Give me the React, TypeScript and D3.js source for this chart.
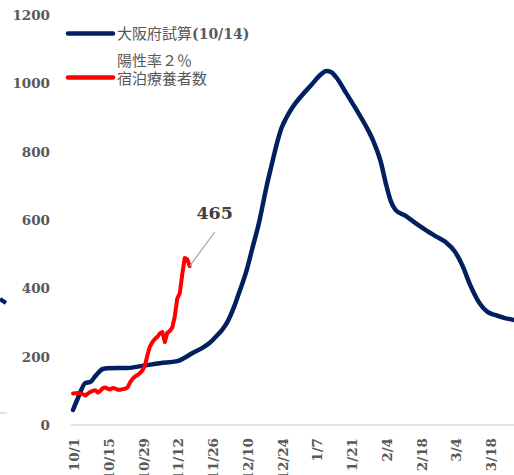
import React from "react";
import * as d3 from "d3";

// ---- data ----
const tickDays = [0, 14, 28, 42, 56, 70, 84, 98, 112, 126, 140, 154, 168];
const tickLabels = ["10/1", "10/15", "10/29", "11/12", "11/26", "12/10", "12/24", "1/7", "1/21", "2/4", "2/18", "3/4", "3/18"];
const yTicks = [0, 200, 400, 600, 800, 1000, 1200];

// 大阪府試算(10/14) — day offset from 10/1 and value
const osakaDays = [0, 2, 5, 7, 9, 12, 14, 22, 28, 35, 42, 45, 48, 52, 55, 58, 60, 62, 65, 67, 70, 72, 75, 78, 80, 82, 84, 86, 88, 92, 96, 100, 102, 104, 106, 110, 114, 118, 121, 124, 126, 128, 130, 134, 138, 142, 146, 150, 154, 157, 160, 164, 167, 170, 174, 178];
const osakaValues = [44, 79, 123, 126, 143, 164, 166, 167, 173, 181, 187, 197, 210, 225, 240, 262, 278, 299, 348, 389, 454, 510, 594, 699, 760, 820, 869, 900, 925, 963, 995, 1027, 1036, 1033, 1018, 972, 925, 875, 831, 770, 708, 656, 629, 612, 591, 571, 553, 536, 506, 465, 410, 354, 331, 322, 313, 307];

// 陽性率２％ 宿泊療養者数 — daily from 10/1
const hotelValues = [92, 93, 94, 93, 90, 86, 92, 97, 100, 102, 95, 100, 108, 110, 106, 104, 108, 107, 103, 103, 105, 106, 110, 125, 135, 142, 146, 152, 160, 175, 205, 230, 243, 252, 258, 268, 272, 243, 270, 275, 285, 318, 370, 385, 440, 489, 485, 465];
const lastLabel = "465";

const W = 514;
const H = 475;
const serif = "'DejaVu Serif', serif";
const cjk = "'Noto Sans CJK JP', sans-serif";

export default function App() {
  const x = d3.scaleLinear().domain([0, 168]).range([73, 490]);
  const y = d3.scaleLinear().domain([0, 1200]).range([425, 15]);

  const line = d3
    .line<[number, number]>()
    .x((d) => x(d[0]))
    .y((d) => y(d[1]))
    .curve(d3.curveMonotoneX);

  const osakaPts: [number, number][] = osakaDays.map((d, i) => [d, osakaValues[i]]);
  const hotelPts: [number, number][] = hotelValues.map((v, i) => [i, v]);
  const hotelLine = d3
    .line<[number, number]>()
    .x((d) => x(d[0]))
    .y((d) => y(d[1]));

  const last = hotelPts[hotelPts.length - 1];
  const lx = x(last[0]);
  const ly = y(last[1]);

  return (
    <svg width={W} height={H} style={{ position: "absolute", left: 0, top: 0, background: "#fff" }}>
      <rect width={W} height={H} fill="#fff" />
      {/* fragments of neighbouring chart */}
      <line x1={0} y1={413} x2={7} y2={413} stroke="#d9d9d9" strokeWidth={1.5} />
      <line x1={0} y1={299} x2={6} y2={303} stroke="#002060" strokeWidth={4} />

      {/* baseline */}
      <line x1={71} x2={514} y1={y(0)} y2={y(0)} stroke="#d9d9d9" strokeWidth={1.5} />

      {/* y tick labels */}
      {yTicks.map((t) => (
        <text key={t} x={50} y={y(t) + 5} textAnchor="end" fontFamily={serif} fontWeight="bold" fontSize={13.5} fill="#595959">
          {t}
        </text>
      ))}

      {/* x tick labels */}
      {tickDays.map((d, i) => (
        <text
          key={d}
          transform={`translate(${x(d) + 6},438) rotate(-90)`}
          textAnchor="end"
          fontFamily={serif}
          fontWeight="bold"
          fontSize={13.5}
          fill="#595959"
        >
          {tickLabels[i]}
        </text>
      ))}

      {/* series */}
      <path d={line(osakaPts) || ""} fill="none" stroke="#002060" strokeWidth={4.5} strokeLinejoin="round" strokeLinecap="round" />
      <path d={hotelLine(hotelPts) || ""} fill="none" stroke="#ff0000" strokeWidth={4} strokeLinejoin="round" strokeLinecap="round" />

      {/* annotation */}
      <line x1={lx} y1={ly} x2={lx + 25} y2={ly - 34} stroke="#a6a6a6" strokeWidth={1.2} />
      <text x={lx + 25} y={ly - 47} textAnchor="middle" fontFamily={serif} fontWeight="bold" fontSize={17.5} fill="#404040">
        {lastLabel}
      </text>

      {/* legend */}
      <line x1={68} x2={113} y1={33.5} y2={33.5} stroke="#002060" strokeWidth={4.5} strokeLinecap="round" />
      <text x={117} y={39} fill="#595959" fontFamily={cjk} fontSize={15}>
        大阪府試算
        <tspan fontFamily={serif} fontWeight="bold" fontSize={14}>(10/14)</tspan>
      </text>
      <line x1={68} x2={113} y1={77.5} y2={77.5} stroke="#ff0000" strokeWidth={4.5} strokeLinecap="round" />
      <text x={117} y={66} fill="#595959" fontFamily={cjk} fontSize={15}>
        陽性率２％
      </text>
      <text x={117} y={84} fill="#595959" fontFamily={cjk} fontSize={15}>
        宿泊療養者数
      </text>
    </svg>
  );
}
